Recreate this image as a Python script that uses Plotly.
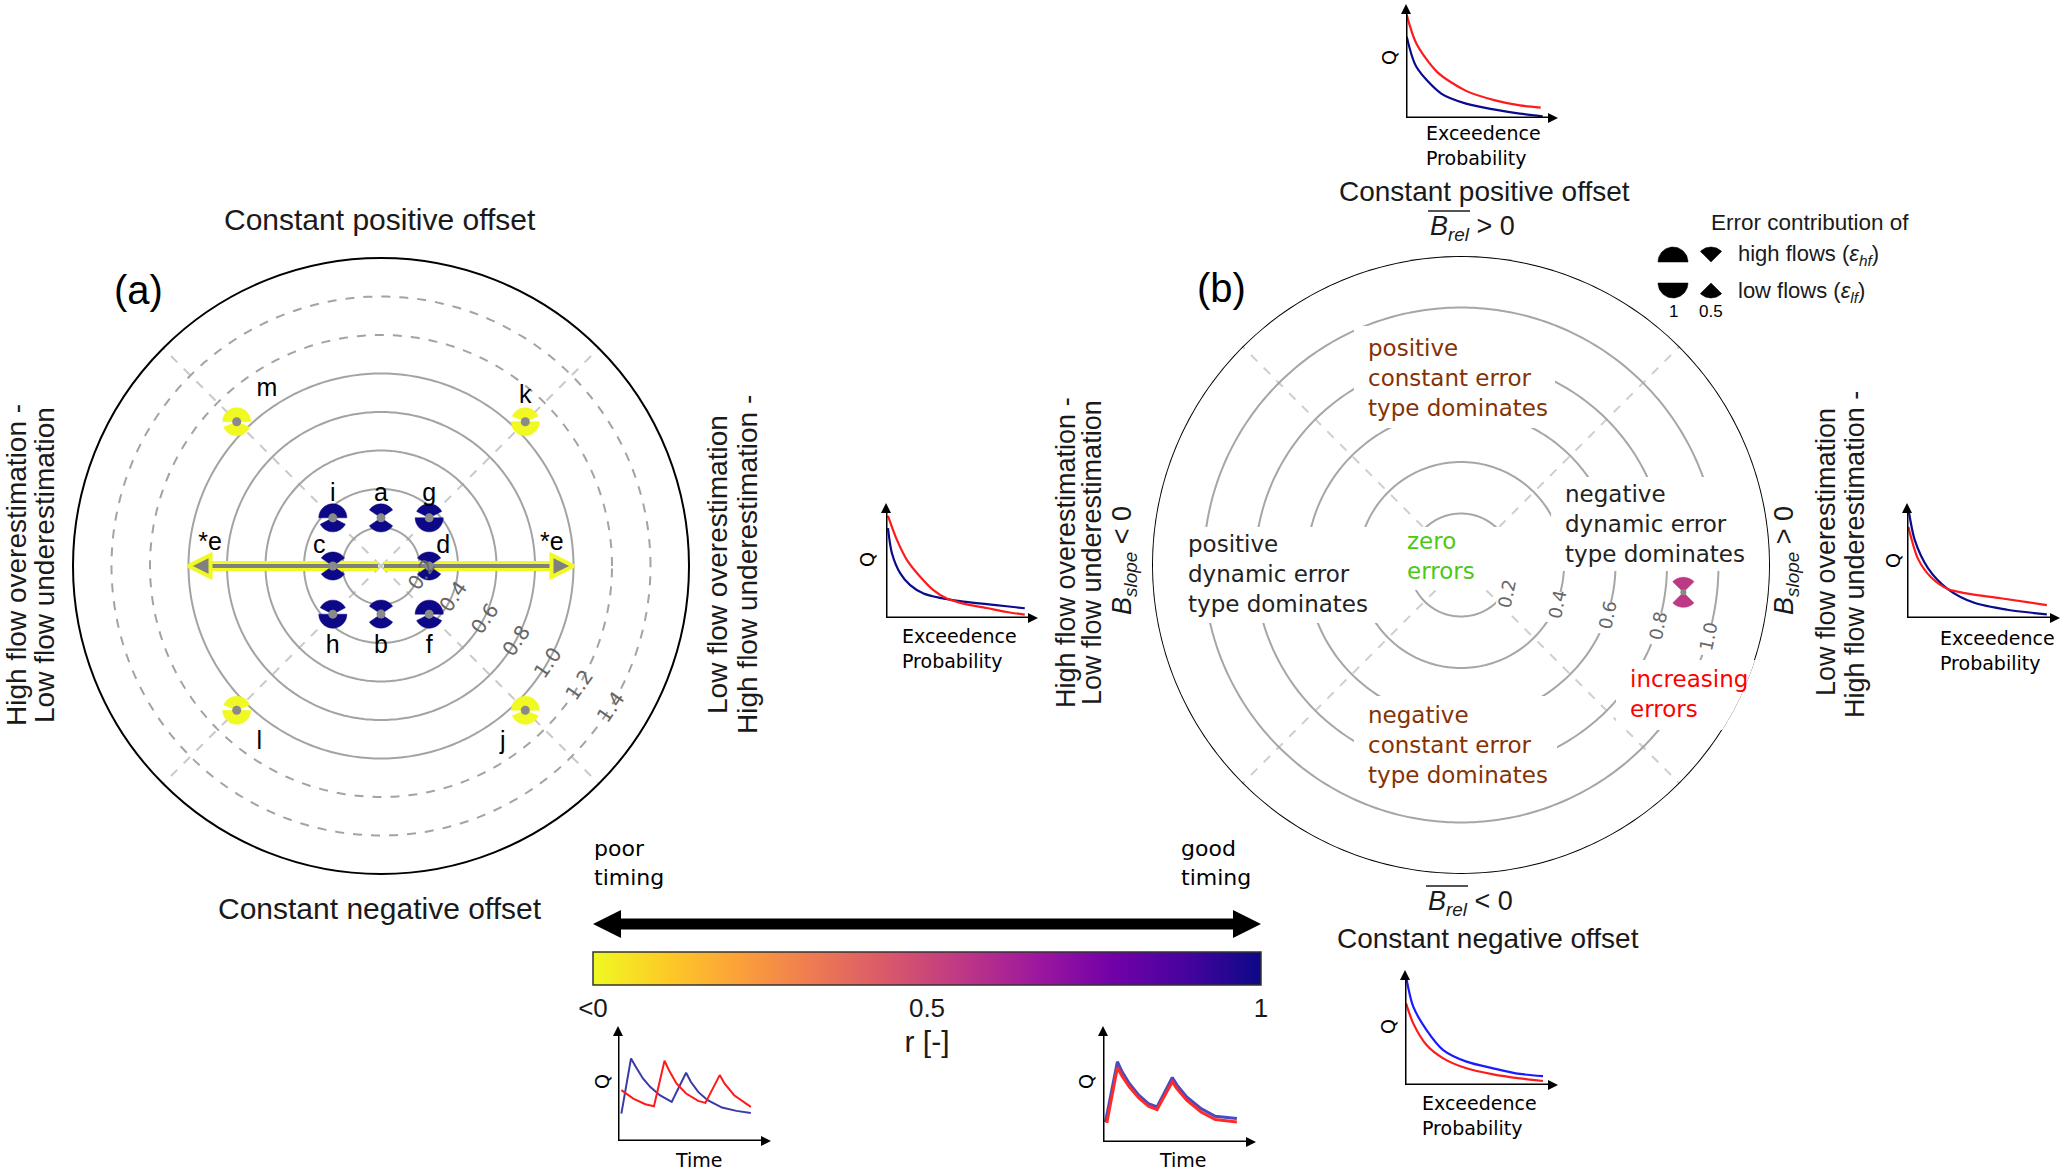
import numpy as np
import plotly.graph_objects as go
from plotly.colors import sample_colorscale, sequential

W, H = 2067, 1172

# ---------------- data: panel (a) example points ----------------
a_labels = ['a', 'b', 'c', 'd', 'f', 'g', 'h', 'i', 'j', 'k', 'l', 'm']
a_r = [0.25, 0.25, 0.25, 0.25, 0.354, 0.354, 0.354, 0.354, 1.06, 1.06, 1.06, 1.06]
a_theta = [90, 270, 180, 0, 315, 45, 225, 135, 315, 45, 225, 135]
a_timing = [1, 1, 1, 1, 1, 1, 1, 1, 0, 0, 0, 0]
a_eps_hf = [0.62, 0.62, 0.62, 0.62, 1.0, 0.7, 0.7, 1.0, 1.0, 0.75, 0.75, 1.0]
a_eps_lf = [0.62, 0.62, 0.62, 0.62, 0.7, 1.0, 1.0, 0.7, 0.75, 1.0, 1.0, 0.75]
e_label = '*e'
e_r = 1.0
e_theta = [0, 180]
e_timing = 0

a_rings_solid = [0.2, 0.4, 0.6, 0.8, 1.0]
a_rings_dashed = [1.2, 1.4]
a_ticks = [0.2, 0.4, 0.6, 0.8, 1.0, 1.2, 1.4]
a_ticktext = ['0.2', '0.4', '0.6', '0.8', '1.0', '1.2', '1.4']
a_rmax = 1.6
diag_angles = [45, 135, 225, 315]

# ---------------- data: panel (b) ----------------
b_rings = [0.2, 0.4, 0.6, 0.8, 1.0]
b_ticks = [0.2, 0.4, 0.6, 0.8, 1.0]
b_ticktext = ['0.2', '0.4', '0.6', '0.8', '1.0']
b_rmax = 1.2
b_r = [0.87]
b_theta = [-7]
b_timing = [0.55]
b_eps_hf = [0.5]
b_eps_lf = [0.5]

legend_eps = [1.0, 0.5]
legend_eps_text = ['1', '0.5']

# ---------------- data: colorbar ----------------
cbar_ticks = [0, 0.5, 1]
cbar_ticktext = ['&lt;0', '0.5', '1']

# ---------------- data: small inset curves (fractions of axis length) ----------------
mid_sim_x = [0.013, 0.072, 0.138, 0.225, 0.312, 0.40, 0.509, 0.662, 0.793, 0.913]
mid_sim_q = [0.889, 0.679, 0.504, 0.359, 0.242, 0.169, 0.125, 0.087, 0.052, 0.029]
mid_obs_x = [0.013, 0.039, 0.094, 0.159, 0.247, 0.356, 0.487, 0.662, 0.793, 0.913]
mid_obs_q = [0.781, 0.563, 0.388, 0.286, 0.213, 0.175, 0.146, 0.120, 0.102, 0.085]

top_sim_x = [0.005, 0.068, 0.204, 0.395, 0.586, 0.749, 0.886]
top_sim_q = [0.903, 0.654, 0.405, 0.238, 0.155, 0.111, 0.091]
top_obs_x = [0.005, 0.068, 0.232, 0.395, 0.586, 0.749, 0.899]
top_obs_q = [0.713, 0.449, 0.214, 0.126, 0.073, 0.038, 0.015]

right_obs_x = [0.009, 0.052, 0.138, 0.267, 0.44, 0.655, 0.914]
right_obs_q = [0.952, 0.672, 0.432, 0.252, 0.132, 0.072, 0.032]
right_sim_x = [0.009, 0.073, 0.159, 0.267, 0.397, 0.612, 0.914]
right_sim_q = [0.792, 0.512, 0.352, 0.252, 0.212, 0.172, 0.112]

bot_obs_x = [0.007, 0.054, 0.141, 0.25, 0.402, 0.576, 0.75, 0.902]
bot_obs_q = [0.942, 0.681, 0.478, 0.304, 0.203, 0.145, 0.096, 0.078]
bot_sim_x = [0.007, 0.054, 0.141, 0.25, 0.402, 0.576, 0.75, 0.902]
bot_sim_q = [0.71, 0.536, 0.348, 0.232, 0.145, 0.093, 0.058, 0.035]

poor_obs_t = [0.022, 0.085, 0.116, 0.163, 0.21, 0.273, 0.351, 0.445, 0.476, 0.524, 0.586, 0.680, 0.774, 0.868]
poor_obs_q = [0.238, 0.718, 0.645, 0.544, 0.471, 0.398, 0.340, 0.593, 0.515, 0.427, 0.355, 0.291, 0.262, 0.244]
poor_sim_t = [0.022, 0.1, 0.179, 0.235, 0.304, 0.335, 0.382, 0.445, 0.524, 0.571, 0.665, 0.696, 0.759, 0.868]
poor_sim_q = [0.442, 0.369, 0.320, 0.302, 0.698, 0.610, 0.5, 0.413, 0.349, 0.331, 0.573, 0.5, 0.398, 0.297]

good_obs_t = [0.016, 0.094, 0.125, 0.172, 0.234, 0.297, 0.353, 0.453, 0.484, 0.547, 0.641, 0.734, 0.875]
good_obs_q = [0.173, 0.692, 0.605, 0.504, 0.403, 0.331, 0.303, 0.556, 0.490, 0.389, 0.288, 0.222, 0.202]
good_sim_t = [0.025, 0.094, 0.125, 0.172, 0.234, 0.297, 0.353, 0.453, 0.484, 0.547, 0.641, 0.734, 0.875]
good_sim_q = [0.164, 0.643, 0.568, 0.476, 0.380, 0.308, 0.280, 0.519, 0.458, 0.360, 0.259, 0.193, 0.173]

# ---------------- helpers ----------------
SANS = 'Liberation Sans'
DJV = 'DejaVu Sans'
CMAP = sequential.Plasma_r
TXT = '#1a1a1a'


def px(x):
    return x / W


def py(y):
    return 1 - y / H


def cval(t):
    return sample_colorscale(CMAP, [t])[0]


def glyph_xy(x0, y0, ehf, elf, rad, n=40):
    xs, ys = [x0], [y0]
    if ehf > 0:
        up = np.radians(np.linspace(90 - 90 * ehf, 90 + 90 * ehf, n))
        xs += list(x0 + rad * np.cos(up)) + [x0]
        ys += list(y0 + rad * np.sin(up)) + [y0]
    if elf > 0:
        lo = np.radians(np.linspace(270 - 90 * elf, 270 + 90 * elf, n))
        xs += list(x0 + rad * np.cos(lo)) + [x0]
        ys += list(y0 + rad * np.sin(lo)) + [y0]
    return np.array(xs), np.array(ys)


def to_polar(xs, ys):
    return np.hypot(xs, ys), np.degrees(np.arctan2(ys, xs))


def glyph_polar(r, th, ehf, elf, rad):
    x0 = r * np.cos(np.radians(th))
    y0 = r * np.sin(np.radians(th))
    return to_polar(*glyph_xy(x0, y0, ehf, elf, rad))


def rect_polar(x0, x1, y0, y1, n=40):
    xs = np.concatenate([np.linspace(x0, x1, n), np.full(n, x1), np.linspace(x1, x0, n), np.full(n, x0)])
    ys = np.concatenate([np.full(n, y0), np.linspace(y0, y1, n), np.full(n, y1), np.linspace(y1, y0, n)])
    return to_polar(xs, ys)


def rot_rect_polar(cx, cy, ang_deg, hl, hw, n=20):
    u = np.array([np.cos(np.radians(ang_deg)), np.sin(np.radians(ang_deg))])
    v = np.array([-u[1], u[0]])
    corners = [(-1, -1), (1, -1), (1, 1), (-1, 1), (-1, -1)]
    pts = []
    for (a1, b1), (a2, b2) in zip(corners[:-1], corners[1:]):
        for s in np.linspace(0, 1, n):
            a = a1 + (a2 - a1) * s
            b = b1 + (b2 - b1) * s
            pts.append((cx + a * hl * u[0] + b * hw * v[0], cy + a * hl * u[1] + b * hw * v[1]))
    pts = np.array(pts)
    return to_polar(pts[:, 0], pts[:, 1])


fig = go.Figure()
circ = np.linspace(0, 360, 361)

# ================= panel (a) =================
for rv in a_rings_solid:
    fig.add_trace(go.Scatterpolar(r=[rv] * len(circ), theta=circ, mode='lines',
                                  line=dict(color='#a3a3a3', width=2), subplot='polar',
                                  hoverinfo='skip'))
for rv in a_rings_dashed:
    fig.add_trace(go.Scatterpolar(r=[rv] * len(circ), theta=circ, mode='lines',
                                  line=dict(color='#a3a3a3', width=2, dash='dash'), subplot='polar',
                                  hoverinfo='skip'))

yel = cval(e_timing)
for th in e_theta:
    fig.add_trace(go.Scatterpolar(r=[0.015, e_r - 0.06], theta=[th, th], mode='lines',
                                  line=dict(color=yel, width=10), subplot='polar', hoverinfo='skip'))
    fig.add_trace(go.Scatterpolar(r=[0.015, e_r - 0.06], theta=[th, th], mode='lines',
                                  line=dict(color='#808080', width=4), subplot='polar', hoverinfo='skip'))
fig.add_trace(go.Scatterpolar(r=[e_r] * len(e_theta), theta=e_theta, mode='markers',
                              marker=dict(symbol=['arrow-right', 'arrow-left'], size=22, color='#808080',
                                          line=dict(color=yel, width=4)),
                              subplot='polar', hoverinfo='skip'))

rad_a = 14 / 192.0
for r, th, eh, el, t in zip(a_r, a_theta, a_eps_hf, a_eps_lf, a_timing):
    gr, gt = glyph_polar(r, th, eh, el, rad_a)
    fig.add_trace(go.Scatterpolar(r=gr, theta=gt, mode='lines', fill='toself', fillcolor=cval(t),
                                  line=dict(color=cval(t), width=0.5), subplot='polar', hoverinfo='skip'))
fig.add_trace(go.Scatterpolar(r=a_r, theta=a_theta, mode='markers',
                              marker=dict(color='#8a8a8a', size=9), subplot='polar', hoverinfo='skip'))
# carrier of the colour scale (invisible)
fig.add_trace(go.Scatterpolar(r=a_r, theta=a_theta, mode='markers',
                              marker=dict(color=a_timing, coloraxis='coloraxis', size=2, opacity=0,
                                          line=dict(width=0)),
                              subplot='polar', hoverinfo='skip'))

# point labels (textposition + spacer size control the label offset)
lab_pos = ['top center', 'bottom center', 'top left', 'top right', 'bottom center', 'top center',
           'bottom center', 'top center', 'bottom left', 'top center', 'bottom right', 'top right',
           'top left', 'top right']
lab_gap = [16, 30, 10, 10, 30, 16, 30, 16, 30, 18, 30, 30, 14, 14]
fig.add_trace(go.Scatterpolar(r=a_r + [e_r] * 2, theta=a_theta + e_theta, mode='markers+text',
                              text=a_labels + [e_label] * 2, textposition=lab_pos,
                              marker=dict(size=lab_gap, color='rgba(0,0,0,0)',
                                          line=dict(width=0, color='rgba(0,0,0,0)')),
                              textfont=dict(size=25, family=SANS, color='black'),
                              subplot='polar', hoverinfo='skip'))

# ================= panel (b) =================
for rv in b_rings:
    fig.add_trace(go.Scatterpolar(r=[rv] * len(circ), theta=circ, mode='lines',
                                  line=dict(color='#a6a6a6', width=2), subplot='polar2',
                                  hoverinfo='skip'))
# outer frame of panel (b)
fig.add_trace(go.Scatterpolar(r=[b_rmax] * len(circ), theta=circ, mode='lines', cliponaxis=False,
                              line=dict(color='black', width=2), subplot='polar2', hoverinfo='skip'))
# white boxes behind the region texts (x0, x1, y0, y1 in panel units)
b_text_boxes = [(-0.416, 0.365, 0.532, 0.928), (-0.416, 0.373, -0.901, -0.509),
                (-1.115, -0.322, -0.225, 0.148), (0.350, 1.142, -0.023, 0.342),
                (-0.287, 0.229, -0.097, 0.148), (0.602, 1.157, -0.641, -0.369)]
for (x0, x1, y0, y1) in b_text_boxes:
    rr, tt = rect_polar(x0, x1, y0, y1)
    fig.add_trace(go.Scatterpolar(r=rr, theta=tt, mode='lines', fill='toself', fillcolor='white',
                                  line=dict(color='white', width=0), cliponaxis=False,
                                  subplot='polar2', hoverinfo='skip'))
# white boxes behind the radial tick labels of panel (b)
B_AX_ANG = -12
for t in b_ticks:
    cx = t * np.cos(np.radians(B_AX_ANG)) + 0.085 * np.cos(np.radians(B_AX_ANG - 90))
    cy = t * np.sin(np.radians(B_AX_ANG)) + 0.085 * np.sin(np.radians(B_AX_ANG - 90))
    rr, tt = rot_rect_polar(cx, cy, B_AX_ANG + 90, 0.062, 0.036)
    fig.add_trace(go.Scatterpolar(r=rr, theta=tt, mode='lines', fill='toself', fillcolor='white',
                                  line=dict(color='white', width=0), subplot='polar2', hoverinfo='skip'))
rad_b = 15 / 257.0
for r, th, eh, el, t in zip(b_r, b_theta, b_eps_hf, b_eps_lf, b_timing):
    gr, gt = glyph_polar(r, th, eh, el, rad_b)
    fig.add_trace(go.Scatterpolar(r=gr, theta=gt, mode='lines', fill='toself', fillcolor=cval(t),
                                  line=dict(color=cval(t), width=0.5), subplot='polar2', hoverinfo='skip'))
fig.add_trace(go.Scatterpolar(r=b_r, theta=b_theta, mode='markers',
                              marker=dict(color='#8a8a8a', size=6), subplot='polar2', hoverinfo='skip'))

# ================= insets =================
insets = [
    # axis index, x0, x1, ytop, ybottom (pixels)
    (2, 886, 1038, 503, 618),
    (3, 1406, 1558, 4, 118),
    (4, 1907, 2060, 503, 618),
    (5, 1405, 1558, 970, 1085),
    (6, 618, 771, 1026, 1141),
    (7, 1103, 1256, 1026, 1142),
]
curves = {
    2: [(mid_obs_x, mid_obs_q, '#0a0a8c', 2.2), (mid_sim_x, mid_sim_q, '#ff1a1a', 2.2)],
    3: [(top_obs_x, top_obs_q, '#0a0a8c', 2.2), (top_sim_x, top_sim_q, '#ff1a1a', 2.2)],
    4: [(right_obs_x, right_obs_q, '#0a0a8c', 2.2), (right_sim_x, right_sim_q, '#ff1a1a', 2.2)],
    5: [(bot_obs_x, bot_obs_q, '#1a1aff', 2.2), (bot_sim_x, bot_sim_q, '#ff1a1a', 2.2)],
    6: [(poor_obs_t, poor_obs_q, '#3a3aa8', 2.0), (poor_sim_t, poor_sim_q, '#ff1a1a', 2.0)],
    7: [(good_obs_t, good_obs_q, '#4a4ac0', 3.0), (good_sim_t, good_sim_q, '#ff2a2a', 3.0)],
}
shape_of = {2: 'spline', 3: 'spline', 4: 'spline', 5: 'spline', 6: 'linear', 7: 'linear'}
layout_axes = {}
annotations = []
for k, x0, x1, yt, yb in insets:
    layout_axes['xaxis%d' % k] = dict(domain=[px(x0), px(x1)], range=[0, 1], visible=False,
                                      anchor='y%d' % k, fixedrange=True)
    layout_axes['yaxis%d' % k] = dict(domain=[py(yb), py(yt)], range=[0, 1], visible=False,
                                      anchor='x%d' % k, fixedrange=True)
    for xs, qs, col, lw in curves[k]:
        fig.add_trace(go.Scatter(x=xs, y=qs, mode='lines', xaxis='x%d' % k, yaxis='y%d' % k,
                                 line=dict(color=col, width=lw, shape=shape_of[k], smoothing=0.8),
                                 hoverinfo='skip', cliponaxis=False))
    # arrowed axes
    fig.add_trace(go.Scatter(x=[0, 0, 0.96], y=[0.95, 0, 0], mode='lines', xaxis='x%d' % k, yaxis='y%d' % k,
                             line=dict(color='black', width=3), hoverinfo='skip', cliponaxis=False))
    fig.add_trace(go.Scatter(x=[1, 0], y=[0, 1], mode='markers', xaxis='x%d' % k, yaxis='y%d' % k,
                             marker=dict(symbol=['arrow-right', 'arrow-up'], size=10, color='black'),
                             hoverinfo='skip', cliponaxis=False))

# canvas axis (pixel units) for the legend glyphs and the timing arrow
layout_axes['xaxis8'] = dict(domain=[0, 1], range=[0, W], visible=False, anchor='y8', fixedrange=True)
layout_axes['yaxis8'] = dict(domain=[0, 1], range=[H, 0], visible=False, anchor='x8', fixedrange=True)
leg_x = [1673, 1711]
for cx, e in zip(leg_x, legend_eps):
    for (cy, eh, el) in [(262, e, 0.0), (283, 0.0, e)]:
        xs, ys = glyph_xy(cx, -cy, eh, el, 15)
        fig.add_trace(go.Scatter(x=xs, y=-ys, mode='lines', fill='toself', fillcolor='black',
                                 line=dict(color='black', width=0.5), xaxis='x8', yaxis='y8',
                                 hoverinfo='skip'))
fig.add_trace(go.Scatter(x=[610, 1244], y=[924, 924], mode='lines', xaxis='x8', yaxis='y8',
                         line=dict(color='black', width=11), hoverinfo='skip'))
fig.add_trace(go.Scatter(x=[593, 1261], y=[924, 924], mode='markers', xaxis='x8', yaxis='y8',
                         marker=dict(symbol=['arrow-left', 'arrow-right'], size=28, color='black'),
                         hoverinfo='skip'))


def T(text, x, y, size, family=SANS, color=TXT, xanchor='center', yanchor='middle', angle=0, align='center'):
    annotations.append(dict(text=text, x=px(x), y=py(y), xref='paper', yref='paper', showarrow=False,
                            xanchor=xanchor, yanchor=yanchor, textangle=angle, align=align,
                            font=dict(size=size, family=family, color=color)))


# ---- inset labels ----
for (qx, qy) in [(867, 560), (1389, 58), (1893, 561), (1388, 1027), (602, 1082), (1086, 1082)]:
    T('Q', qx, qy, 19, DJV, 'black', angle=-90)
for (ex, ey) in [(900, 648), (1424, 146), (1938, 650), (1420, 1115)]:
    T('Exceedence<br>Probability', ex, ey, 19, DJV, 'black', xanchor='left', align='left')
T('Time', 699, 1160, 19, DJV, 'black')
T('Time', 1183, 1160, 19, DJV, 'black')

# ---- panel (a) text ----
T('Constant positive offset', 380, 219, 30)
T('Constant negative offset', 380, 908, 30)
T('(a)', 138, 290, 40, color='black')
T('High flow overestimation -', 16, 565, 28, angle=-90)
T('Low flow underestimation', 44, 565, 28, angle=-90)
T('Low flow overestimation', 717, 565, 28, angle=-90)
T('High flow underestimation -', 747, 565, 28, angle=-90)

# ---- panel (b) text ----
BREL = '<i>B</i><sub><i>rel</i></sub>'
BSL = '<i>B</i><sub><i>slope</i></sub>'
T('Constant positive offset', 1484, 191, 28)
T(BREL + ' &gt; 0', 1472, 228, 27)
T(BREL + ' &lt; 0', 1470, 903, 27)
T('Constant negative offset', 1488, 938, 28)
T('(b)', 1221, 288, 40, color='black')
T('High flow overestimation -', 1066, 553, 27, angle=-90)
T('Low flow underestimation', 1092, 553, 27, angle=-90)
T(BSL + ' &lt; 0', 1124, 561, 27, angle=-90)
T(BSL + ' &gt; 0', 1786, 561, 27, angle=-90)
T('Low flow overestimation', 1826, 552, 27, angle=-90)
T('High flow underestimation -', 1855, 555, 27, angle=-90)
T('Error contribution of', 1709, 222, 22.5, xanchor='left')
T('high flows (<i>ε</i><sub><i>hf</i></sub>)', 1736, 255, 22, xanchor='left')
T('low flows (<i>ε</i><sub><i>lf</i></sub>)', 1736, 292, 22, xanchor='left')
for cx, lt in zip(leg_x, legend_eps_text):
    T(lt, cx, 312, 17, color='black')

shapes = []
# overlines of the mean relative bias symbol
for (xa, xb, yy) in [(1428, 1470, 211), (1426, 1468, 886)]:
    shapes.append(dict(type='line', xref='paper', yref='paper', x0=px(xa), x1=px(xb), y0=py(yy), y1=py(yy),
                       line=dict(color=TXT, width=1.6)))

BROWN = '#853205'
T('positive<br>constant error<br>type dominates', 1366, 378, 23, DJV, BROWN, xanchor='left', align='left')
T('negative<br>constant error<br>type dominates', 1366, 745, 23, DJV, BROWN, xanchor='left', align='left')
T('positive<br>dynamic error<br>type dominates', 1186, 574, 23, DJV, '#222222', xanchor='left', align='left')
T('negative<br>dynamic error<br>type dominates', 1563, 524, 23, DJV, '#222222', xanchor='left', align='left')
T('zero<br>errors', 1405, 556, 23, DJV, '#4cc814', xanchor='left', align='left')
T('increasing<br>errors', 1628, 694, 23, DJV, '#ff0000', xanchor='left', align='left')

# ---- timing bar ----
T('poor<br>timing', 592, 863, 22, DJV, 'black', xanchor='left', align='left')
T('good<br>timing', 1179, 863, 22, DJV, 'black', xanchor='left', align='left')

fig.update_layout(
    width=W, height=H, margin=dict(l=0, r=0, t=0, b=0),
    paper_bgcolor='white', plot_bgcolor='rgba(0,0,0,0)', showlegend=False,
    polar=dict(
        domain=dict(x=[px(381 - 308), px(381 + 308)], y=[py(566 + 308), py(566 - 308)]),
        bgcolor='white',
        radialaxis=dict(range=[0, a_rmax], tickvals=a_ticks, ticktext=a_ticktext, showline=False,
                        showgrid=False, ticks='', angle=-35, side='counterclockwise', tickangle=-90,
                        tickfont=dict(size=20, family=DJV, color='#666666')),
        angularaxis=dict(tickvals=diag_angles, showticklabels=False, ticks='', showgrid=True,
                         gridcolor='#c9c9c9', griddash='dash', gridwidth=2,
                         showline=True, linecolor='black', linewidth=2),
    ),
    polar2=dict(
        domain=dict(x=[px(1461 - 309), px(1461 + 309)], y=[py(565 + 309), py(565 - 309)]),
        bgcolor='white',
        radialaxis=dict(range=[0, b_rmax], tickvals=b_ticks, ticktext=b_ticktext, showline=False,
                        showgrid=False, ticks='', angle=B_AX_ANG, side='clockwise', tickangle=-90,
                        tickfont=dict(size=18, family=DJV, color='#666666')),
        angularaxis=dict(tickvals=diag_angles, showticklabels=False, ticks='', showgrid=True,
                         gridcolor='#cfcfcf', griddash='dash', gridwidth=2,
                         showline=False),
    ),
    coloraxis=dict(
        colorscale=CMAP, cmin=0, cmax=1,
        colorbar=dict(orientation='h', x=px(927), xanchor='center', y=py(952), yanchor='top',
                      len=(1261 - 593) / W, lenmode='fraction', thickness=33, thicknessmode='pixels',
                      outlinecolor='#333333', outlinewidth=1.5, tickvals=cbar_ticks, ticktext=cbar_ticktext,
                      ticks='', tickfont=dict(size=26, family=SANS, color=TXT), xpad=0, ypad=0,
                      title=dict(text='r [-]', side='bottom', font=dict(size=30, family=SANS, color=TXT))),
    ),
    annotations=annotations,
    shapes=shapes,
    **layout_axes,
)
for tr in fig.data:
    tr.showlegend = False

fig.write_html('out.html', config={'displayModeBar': False},
               post_script="document.body.style.margin='0px';document.body.style.overflow='hidden';")
